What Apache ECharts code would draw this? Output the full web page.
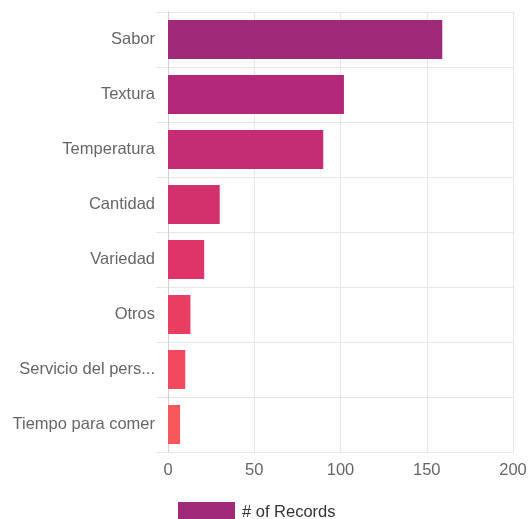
<!DOCTYPE html>
<html>
<head>
<meta charset="utf-8">
<script src="https://cdn.jsdelivr.net/npm/echarts@6/dist/echarts.min.js"></script>
<style>html,body{margin:0;padding:0;background:#fff}#c{width:530px;height:519px}</style>
</head>
<body>
<div id="c"></div>
<script>
const categories = ["Sabor","Textura","Temperatura","Cantidad","Variedad","Otros","Servicio del personal","Tiempo para comer"];
const records = [159, 102, 90, 30, 21, 13, 10, 7];
const barColors = ["#a0297a","#b3287a","#c42d74","#d3306e","#de3468","#e83e62","#f0485e","#f5575a"];
const xTicks = {min: 0, max: 200, interval: 50};
const seriesName = "# of Records";

const chart = echarts.init(document.getElementById('c'), null, {renderer:'canvas'});
const gridColor = '#e6e6e6';
const font = 'Liberation Sans, Arial, sans-serif';
chart.setOption({
  animation: false,
  grid: {left: 168, right: 17, top: 12, bottom: 67, containLabel: false},
  legend: {
    data: [seriesName], left: 178, top: 502, padding: 0,
    itemWidth: 57, itemHeight: 20, itemGap: 8,
    icon: 'rect',
    textStyle: {fontFamily: font, fontSize: 16.5, color: '#333', padding: [0,0,0,2]}
  },
  xAxis: {
    type: 'value', min: xTicks.min, max: xTicks.max, interval: xTicks.interval,
    axisLine: {show: true, lineStyle: {color: gridColor}},
    axisTick: {show: false},
    splitLine: {show: true, lineStyle: {color: gridColor}},
    axisLabel: {fontFamily: font, fontSize: 16.5, color: '#666', margin: 10}
  },
  yAxis: {
    type: 'category', inverse: true, data: categories,
    axisLine: {show: true, lineStyle: {color: '#d0d0d0'}},
    axisTick: {show: true, length: 12, lineStyle: {color: gridColor}},
    splitLine: {show: true, lineStyle: {color: gridColor}},
    axisLabel: {
      fontFamily: font, fontSize: 16.5, color: '#666', margin: 13,
      formatter: v => v.length > 17 ? v.slice(0,17) + '...' : v
    }
  },
  series: [{
    name: seriesName, type: 'bar', data: records.map((v,i)=>({value:v, itemStyle:{color:barColors[i]}})),
    barWidth: 39,
    itemStyle: {color: barColors[0]}
  }]
});
</script>
</body>
</html>
